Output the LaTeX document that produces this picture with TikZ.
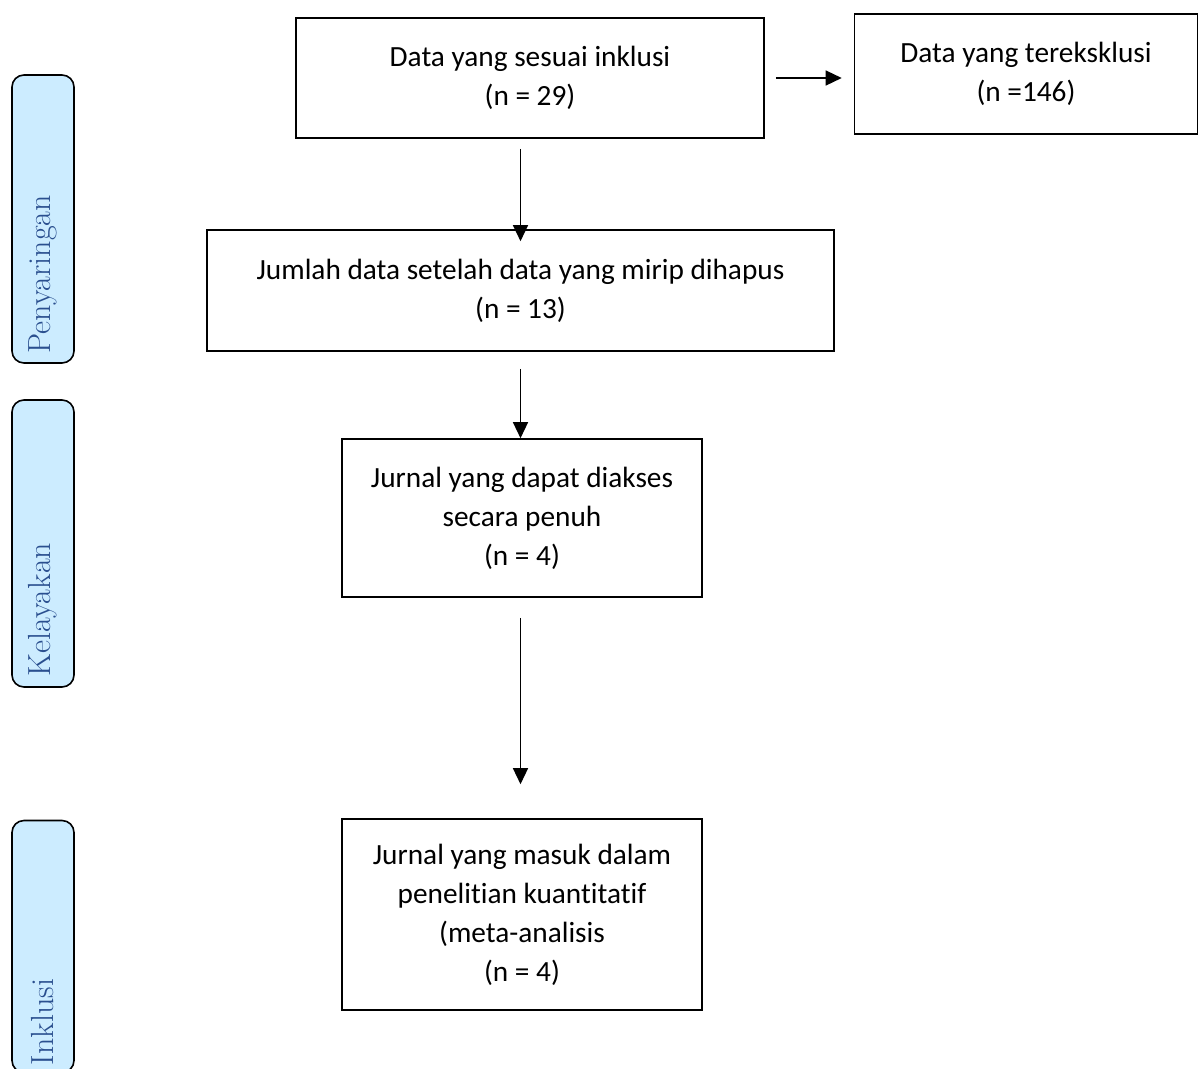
\documentclass[tikz,border=0pt]{standalone}
\usepackage{fontspec}
\newfontfamily\boxfont[Ligatures=NoCommon]{Carlito}
\usepackage{tikz}
\usetikzlibrary{arrows.meta,positioning}
\definecolor{sidefill}{HTML}{CCECFF}
\definecolor{sidetext}{HTML}{2A4F8F}
\tikzstyle{line} = [draw, line width=1.4pt, -{Triangle[length=16pt,width=15pt]}]
\tikzstyle{box} = [rectangle, draw, line width=1.6pt, align=center, inner sep=0pt, font=\boxfont\fontsize{29.3}{39}\selectfont]
\tikzstyle{side} = [rectangle, draw, rounded corners=12pt, line width=1.6pt, fill=sidefill, minimum width=62pt]
\tikzstyle{side_txt} = [rotate=90, anchor=west, text=sidetext, inner sep=0pt, font=\fontsize{32}{34}\selectfont]
\begin{document}
\begin{tikzpicture}[x=1pt, y=-1pt]
	\useasboundingbox (0,0) rectangle (1198,1068);
	
	\node [box, minimum width=468pt, minimum height=120pt] (incl) at (530,78) {Data yang sesuai inklusi\\(n = 29)};
	\node [box, right of=incl, node distance=496pt, yshift=4pt, minimum width=343pt, minimum height=120pt] (excl) {Data yang tereksklusi\\(n =146)};
	\node [box, below of=incl, node distance=212.5pt, xshift=-9.5pt, minimum width=627pt, minimum height=121pt] (dup) {Jumlah data setelah data yang mirip dihapus\\(n = 13)};
	\node [box, below of=dup, node distance=227.5pt, xshift=1.5pt, minimum width=360pt, minimum height=158pt] (full) {Jurnal yang dapat diakses\\secara penuh\\(n = 4)};
	\node [box, below of=full, node distance=396.5pt, minimum width=360pt, minimum height=191pt] (meta) {Jurnal yang masuk dalam\\penelitian kuantitatif\\(meta-analisis\\(n = 4)};
	
	\path [line, shorten <=11pt, shorten >=12pt] (incl.east) to (incl.east -| excl.west);
	\path [line, shorten <=10pt, shorten >=-12pt] (incl.south -| dup.north) to (dup.north);
	\path [line, shorten <=17pt] (dup.south) to (dup.south |- full.north);
	\path [line, shorten <=20pt, shorten >=34pt] (dup.south |- full.south) to (dup.south |- meta.north);
	
	% side bars
	\node [side, minimum height=288pt] (pen) at (43,219) {};
	\node [side, below of=pen, node distance=324.5pt, minimum height=287pt] (kel) {};
	\node [side, below of=kel, node distance=403pt, minimum height=252pt] (inkl) {};
	\node [side_txt] (pen_txt) at ([yshift=10pt]pen.south) {Penyaringan};
	\node [side_txt] (kel_txt) at ([yshift=11pt]kel.south) {Kelayakan};
	\node [side_txt] (inkl_txt) at ([yshift=8pt]inkl.south) {Inklusi};
\end{tikzpicture}
\end{document}
